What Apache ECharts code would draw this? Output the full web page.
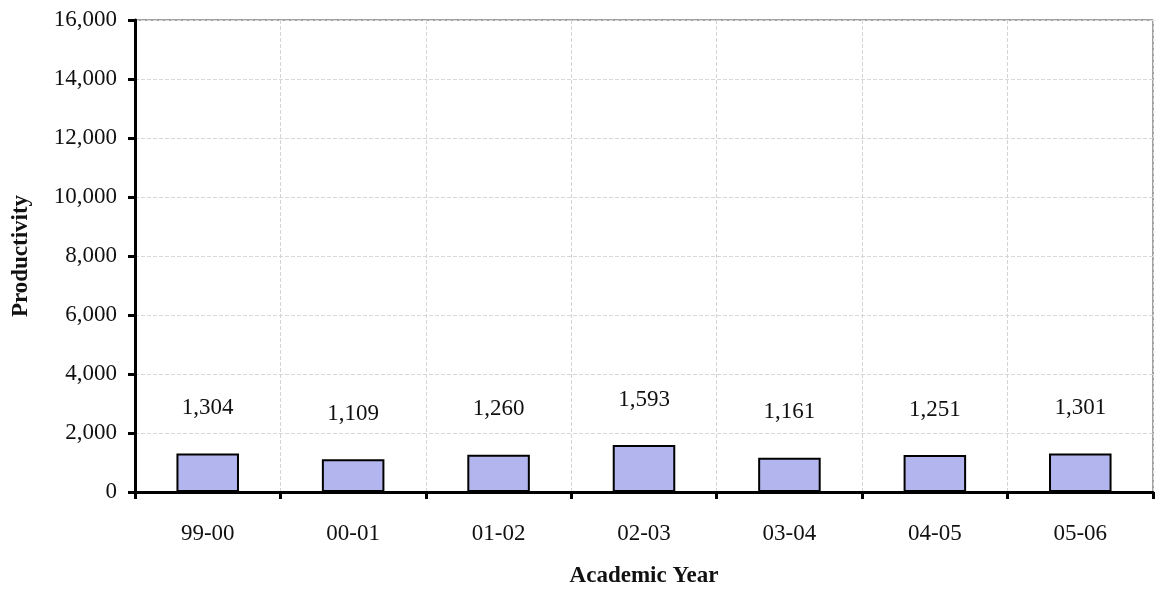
<!DOCTYPE html>
<html>
<head>
<meta charset="utf-8">
<script src="https://cdn.jsdelivr.net/npm/echarts@6/dist/echarts.min.js"></script>
<style>html,body{margin:0;padding:0;background:#fff;}#c{width:1163px;height:590px;}</style>
</head>
<body>
<div id="c"></div>
<script>
var categories = ['99-00', '00-01', '01-02', '02-03', '03-04', '04-05', '05-06'];
var productivity = [1304, 1109, 1260, 1593, 1161, 1251, 1301];
var yTicks = [0, 2000, 4000, 6000, 8000, 10000, 12000, 14000, 16000];

var serif = '"Liberation Serif", "DejaVu Serif", serif';
var chart = echarts.init(document.getElementById('c'), null, {renderer: 'canvas'});
chart.setOption({
  animation: false,
  backgroundColor: '#ffffff',
  grid: {left: 135, right: 10, top: 20, bottom: 98, containLabel: false, outerBoundsMode: 'none',
    show: true, borderColor: '#444', borderWidth: 1},
  xAxis: {
    type: 'category',
    data: categories,
    name: 'Academic Year',
    nameLocation: 'middle',
    nameGap: 73,
    nameTextStyle: {fontFamily: serif, fontSize: 23, fontWeight: 'bold', color: '#111'},
    axisLine: {lineStyle: {color: '#000', width: 3}},
    axisTick: {show: true, length: 7, lineStyle: {color: '#000', width: 3}},
    axisLabel: {fontFamily: serif, fontSize: 23, color: '#111', margin: 30},
    splitLine: {show: true, interval: 0, lineStyle: {color: '#d4d4d4', width: 1, type: 'dashed'}}
  },
  yAxis: {
    type: 'value',
    min: yTicks[0],
    max: yTicks[yTicks.length - 1],
    interval: yTicks[1] - yTicks[0],
    name: 'Productivity',
    nameLocation: 'middle',
    nameGap: 102,
    nameTextStyle: {fontFamily: serif, fontSize: 23, fontWeight: 'bold', color: '#111'},
    axisLine: {show: true, lineStyle: {color: '#000', width: 3}},
    axisTick: {show: true, length: 7, lineStyle: {color: '#000', width: 3}},
    axisLabel: {fontFamily: serif, fontSize: 23, color: '#111', margin: 18,
      formatter: function (v) { return v.toLocaleString('en-US'); }},
    splitLine: {show: true, lineStyle: {color: '#d8d8d8', width: 1, type: 'dashed'}}
  },
  series: [{
    type: 'bar',
    data: productivity,
    barWidth: '43%',
    itemStyle: {color: '#b3b6ee', borderColor: '#000', borderWidth: 2},
    label: {
      show: true, position: 'top', distance: 34,
      fontFamily: serif, fontSize: 23, color: '#111',
      formatter: function (p) { return p.value.toLocaleString('en-US'); }
    }
  }]
});
</script>
</body>
</html>
